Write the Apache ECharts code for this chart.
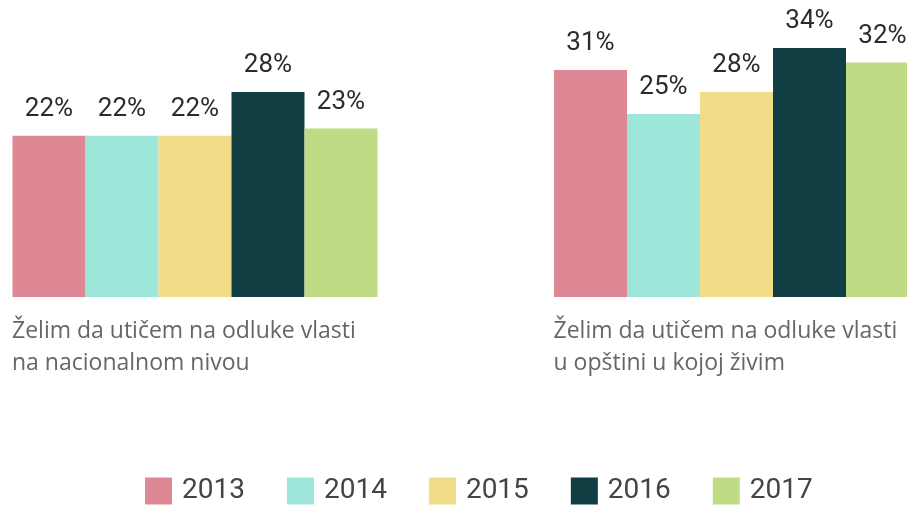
<!DOCTYPE html>
<html>
<head>
<meta charset="utf-8">
<script src="https://cdn.jsdelivr.net/npm/echarts@6/dist/echarts.min.js"></script>
<style>
  html, body { margin: 0; padding: 0; background: #fff; }
  #chart { width: 907px; height: 506px; }
</style>
</head>
<body>
<div id="chart"></div>
<script>
// categories (two questions)
const categories = [
  'Želim da utičem na odluke vlasti\nna nacionalnom nivou',
  'Želim da utičem na odluke vlasti\nu opštini u kojoj živim'
]
// one series per year
const years = ['2013', '2014', '2015', '2016', '2017']
const values2013 = [22, 31]
const values2014 = [22, 25]
const values2015 = [22, 28]
const values2016 = [28, 34]
const values2017 = [23, 32]
const colors = ['#df8895', '#9ee6da', '#f1dd87', '#113e42', '#bfdb84']

const seriesValues = [values2013, values2014, values2015, values2016, values2017]

const chart = echarts.init(document.getElementById('chart'))

const series = years.map((year, i) => ({
  name: year,
  type: 'bar',
  data: seriesValues[i],
  barWidth: 73,
  barGap: '0%',
  clip: false,
  itemStyle: { color: colors[i] },
  label: {
    show: true,
    position: 'top',
    distance: 13,
    formatter: '{c}%',
    color: '#2b2b2b',
    fontFamily: 'Roboto',
    fontSize: 26
  }
}))

const option = {
  animation: false,
  grid: {
    left: 195,
    right: 170.5,
    top: 4,
    bottom: 209,
    containLabel: false
  },
  legend: {
    data: years,
    left: 145,
    top: 477,
    padding: 0,
    itemWidth: 27,
    itemHeight: 27,
    itemGap: 42,
    icon: 'rect',
    textStyle: {
      color: '#444',
      fontFamily: 'Roboto',
      fontSize: 28,
      padding: [0, 0, 0, 5]
    }
  },
  xAxis: {
    type: 'category',
    data: categories,
    boundaryGap: false,
    axisLine: { show: false },
    axisTick: { show: false },
    axisLabel: {
      margin: 19,
      interval: 0,
      width: 366,
      align: 'center',
      formatter: (v) => v.split('\n').map(s => '{t|' + s + '}').join('\n'),
      rich: {
        t: {
          align: 'left',
          color: '#666',
          fontFamily: 'Open Sans',
          fontSize: 23,
          lineHeight: 31.5
        }
      }
    }
  },
  yAxis: {
    type: 'value',
    min: 0,
    max: 40,
    show: false,
    splitLine: { show: false }
  },
  series: series
}

chart.setOption(option)
</script>
</body>
</html>
